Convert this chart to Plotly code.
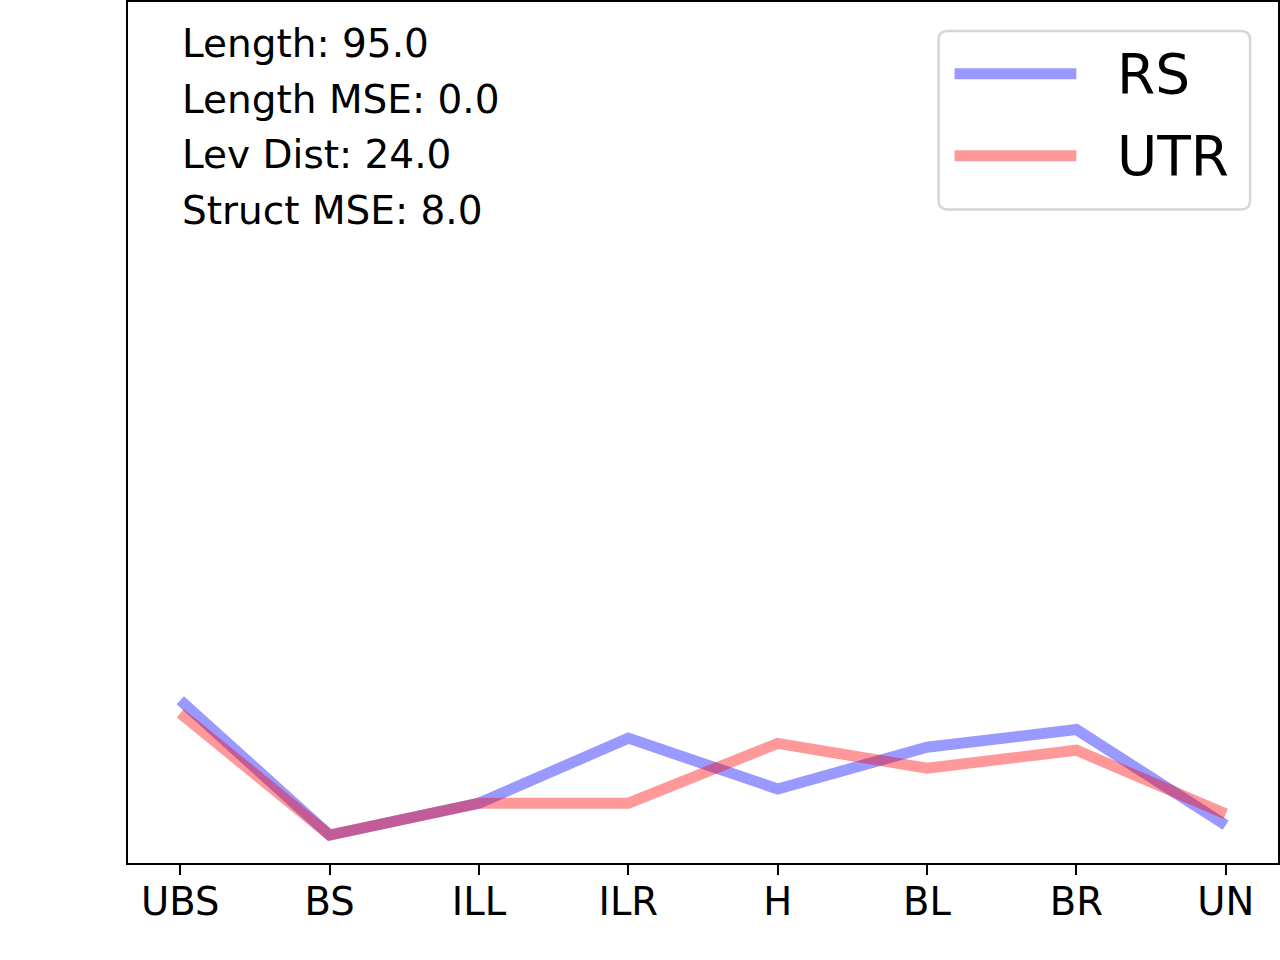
import plotly.graph_objects as go

categories = ["UBS", "BS", "ILL", "ILR", "H", "BL", "BR", "UN"]
rs_values = [18.9, 3.25, 6.95, 14.5, 8.6, 13.45, 15.5, 4.4]
utr_values = [17.4, 3.25, 6.95, 6.95, 13.9, 11.0, 13.1, 5.7]
series_names = ["RS", "UTR"]
series_colors = ["rgba(0,0,255,0.4)", "rgba(255,0,0,0.4)"]
stats_lines = ["Length: 95.0", "Length MSE: 0.0", "Lev Dist: 24.0", "Struct MSE: 8.0"]

W, H = 1280, 960
L, R, T, B = 128, 0, 0, 97
pw, ph = W - L - R, H - T - B


def px_x(px):
    return (px - L) / pw


def px_y(py):
    return (H - B - py) / ph


def rounded_box(x0, y0, x1, y1, r):
    # pixel corners -> paper path with rounded corners
    pts = [
        f"M {px_x(x0 + r)} {px_y(y0)}",
        f"L {px_x(x1 - r)} {px_y(y0)}",
        f"Q {px_x(x1)} {px_y(y0)} {px_x(x1)} {px_y(y0 + r)}",
        f"L {px_x(x1)} {px_y(y1 - r)}",
        f"Q {px_x(x1)} {px_y(y1)} {px_x(x1 - r)} {px_y(y1)}",
        f"L {px_x(x0 + r)} {px_y(y1)}",
        f"Q {px_x(x0)} {px_y(y1)} {px_x(x0)} {px_y(y1 - r)}",
        f"L {px_x(x0)} {px_y(y0 + r)}",
        f"Q {px_x(x0)} {px_y(y0)} {px_x(x0 + r)} {px_y(y0)} Z",
    ]
    return " ".join(pts)


fig = go.Figure()
for name, vals, col in zip(series_names, [rs_values, utr_values], series_colors):
    fig.add_trace(go.Scatter(x=categories, y=vals, mode="lines", name=name,
                             line=dict(color=col, width=11)))

# text block in the top left
for i, txt in enumerate(stats_lines):
    fig.add_annotation(x=0, xref="x", y=px_y(42 + i * 55.5), yref="paper",
                       text=txt, showarrow=False, xanchor="left", yanchor="middle",
                       font=dict(size=39, color="black"))

# legend drawn by hand so the sample lines can be long like matplotlib's
fig.add_shape(type="path", path=rounded_box(940, 29, 1252, 208, 9),
              xref="paper", yref="paper", line=dict(color="#d6d6d6", width=2.5),
              fillcolor="rgba(255,255,255,0.8)", layer="above")
for i, (name, col) in enumerate(zip(series_names, series_colors)):
    ly = 72 + i * 82
    fig.add_shape(type="line", xref="paper", yref="paper",
                  x0=px_x(956), x1=px_x(1078), y0=px_y(ly), y1=px_y(ly),
                  line=dict(color=col, width=11), layer="above")
    fig.add_annotation(x=px_x(1117), xref="paper", y=px_y(ly), yref="paper",
                       text=name, showarrow=False, xanchor="left", yanchor="middle",
                       font=dict(size=55, color="black"))

fig.update_layout(width=W, height=H, margin=dict(l=L, r=R, t=T, b=B),
                  plot_bgcolor="white", paper_bgcolor="white", showlegend=False,
                  font=dict(family="DejaVu Sans", color="black"))
fig.update_xaxes(range=[-0.35, 7.35], showline=True, linecolor="black", linewidth=2,
                 mirror=True, ticks="outside", ticklen=10, tickwidth=2, tickcolor="black",
                 tickfont=dict(size=38.5), ticklabelstandoff=-6,
                 showgrid=False, zeroline=False)
fig.update_yaxes(range=[0, 100], showline=True, linecolor="black", linewidth=2,
                 mirror=True, ticks="", showticklabels=False, showgrid=False, zeroline=False)

# page body has an 8px default margin, drop it so the figure fills the window
fig.write_html("out.html", config={"displayModeBar": False},
               post_script="document.body.style.margin='0';")
